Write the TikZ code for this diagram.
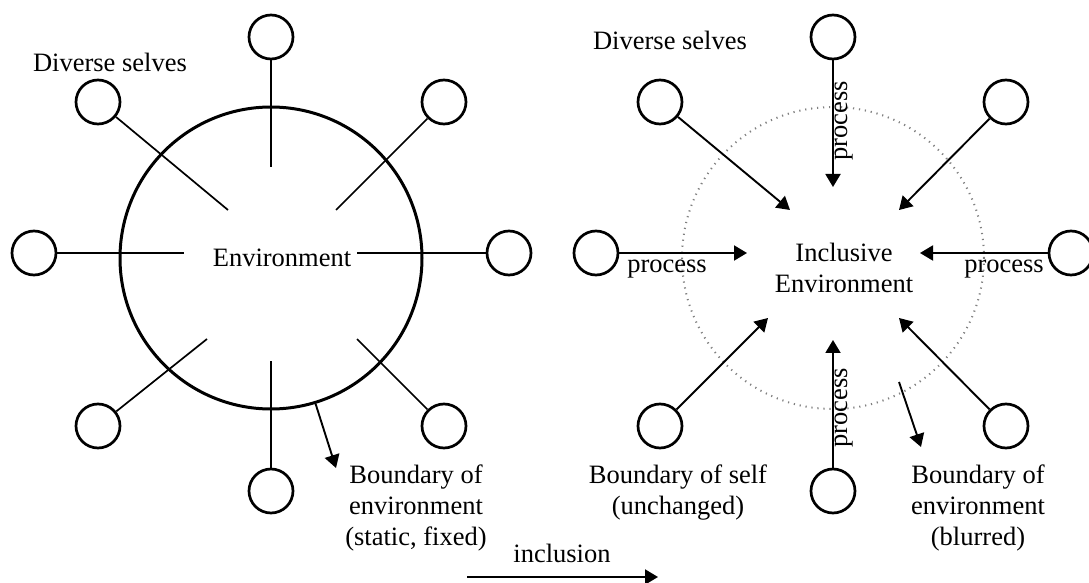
\documentclass[tikz,border=0pt]{standalone}
\usepackage{fontspec}
\setmainfont{Liberation Serif}
\usetikzlibrary{arrows.meta}
\begin{document}
\begin{tikzpicture}[x=0.5pt,y=-0.5pt,
  self/.style={circle,draw,line width=1.35pt,minimum size=22pt,inner sep=0pt},
  spoke/.style={line width=0.85pt},
  flow/.style={line width=0.95pt,-{Triangle[length=6.5pt,width=7.5pt]}},
  lbl/.style={font=\fontsize{13.25pt}{15.5pt}\selectfont,inner sep=0pt,align=center}]
\useasboundingbox (0,0) rectangle (1089,583);

% ---------- static environment ----------
\node[circle,draw,line width=1.5pt,minimum size=151pt,inner sep=0pt] (env) at (271,258) {};
\node[self] (Ltop) at (271,37)  {};
\node[self] (Ltl)  at (98,102)  {};
\node[self] (Ltr)  at (444,102) {};
\node[self] (Ll)   at (34,253)  {};
\node[self] (Lr)   at (509,253) {};
\node[self] (Lbl)  at (98,426)  {};
\node[self] (Lb)   at (271,491) {};
\node[self] (Lbr)  at (444,426) {};
\coordinate (Ltop-e) at (271,167);
\coordinate (Ltl-e)  at (228,210);
\coordinate (Ltr-e)  at (336,210);
\coordinate (Ll-e)   at (184,253);
\coordinate (Lr-e)   at (357,253);
\coordinate (Lbl-e)  at (207,339);
\coordinate (Lb-e)   at (271,361);
\coordinate (Lbr-e)  at (357,339);
\foreach \s in {Ltop,Ltl,Ltr,Ll,Lr,Lbl,Lb,Lbr}
  \draw[spoke] (\s) -- (\s-e);
\node[lbl,anchor=base] (envtext) at (282,267) {Environment};
\node[lbl,anchor=base] (Ldiverse) at (110,72) {Diverse selves};
\coordinate (Lbound-e) at (336,468);
\draw[flow] (env.-73) -- (Lbound-e);
\node[lbl,anchor=north] (Lbound) at (416,464) {Boundary of\\environment\\(static, fixed)};

% ---------- transition ----------
\coordinate (inc-s) at (467,577);
\coordinate (inc-e) at (658,577);
\draw[flow] (inc-s) -- (inc-e);
\node[lbl,anchor=base] (inclusion) at (562,562) {inclusion};

% ---------- inclusive environment ----------
\node[circle,draw=black!50,line width=1pt,dash pattern=on 0.6pt off 2.4pt,
      minimum size=151pt,inner sep=0pt] (ienv) at (833,258) {};
\node[self] (Rtop) at (833,37)   {};
\node[self] (Rtl)  at (660,102)  {};
\node[self] (Rtr)  at (1006,102) {};
\node[self] (Rl)   at (596,253)  {};
\node[self] (Rr)   at (1071,253) {};
\node[self] (Rbl)  at (660,426)  {};
\node[self] (Rb)   at (833,491)  {};
\node[self] (Rbr)  at (1006,426) {};
\coordinate (Rtop-e) at (833,187);
\coordinate (Rtl-e)  at (790,210);
\coordinate (Rtr-e)  at (899,210);
\coordinate (Rl-e)   at (747,253);
\coordinate (Rr-e)   at (920,253);
\coordinate (Rbl-e)  at (768,318);
\coordinate (Rb-e)   at (833,340);
\coordinate (Rbr-e)  at (899,318);
\foreach \s in {Rtop,Rtl,Rtr,Rl,Rr,Rbl,Rb,Rbr}
  \draw[flow] (\s) -- (\s-e);
\node[lbl] (incl) at (844,268) {Inclusive\\Environment};
\node[lbl,anchor=base] (Rdiverse) at (670,50) {Diverse selves};
\node[lbl,anchor=base,rotate=90] (ptop) at (847,121) {process};
\node[lbl,anchor=base,rotate=90] (pbot) at (847,408) {process};
\node[lbl,anchor=base] (pleft)  at (667,273) {process};
\node[lbl,anchor=base] (pright) at (1004,273) {process};
\coordinate (Rbound-s) at (899,382);
\coordinate (Rbound-e) at (921,447);
\draw[flow] (Rbound-s) -- (Rbound-e);
\node[lbl,anchor=north] (selfb) at (678,464) {Boundary of self\\(unchanged)};
\node[lbl,anchor=north] (Rbound) at (978,464) {Boundary of\\environment\\(blurred)};
\end{tikzpicture}
\end{document}
